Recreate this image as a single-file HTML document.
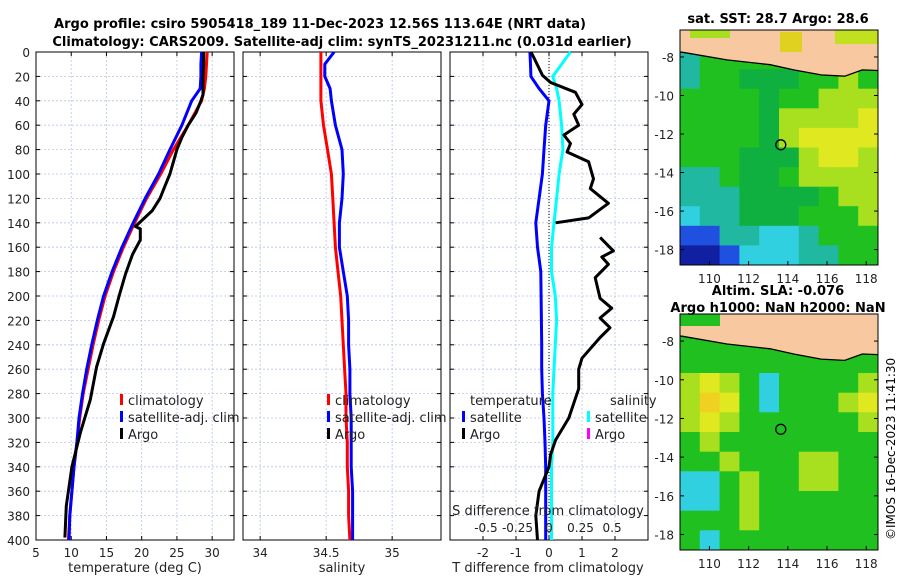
<!DOCTYPE html>
<html><head><meta charset="utf-8"><style>
body{margin:0;background:#fff}
svg{display:block;font-family:"DejaVu Sans","Liberation Sans",sans-serif}
</style></head><body>
<svg id="c" width="900" height="580" viewBox="0 0 900 580" xmlns="http://www.w3.org/2000/svg">
<text x="320" y="28" font-size="13" font-weight="bold" text-anchor="middle">Argo profile: csiro 5905418_189 11-Dec-2023 12.56S 113.64E (NRT data)</text>
<text x="342" y="46" font-size="13" font-weight="bold" text-anchor="middle">Climatology: CARS2009. Satellite-adj clim: synTS_20231211.nc (0.031d earlier)</text>
<g id="g"></g>
<text x="778" y="23" font-size="13" font-weight="bold" text-anchor="middle">sat. SST: 28.7 Argo: 28.6</text>
<text x="778" y="295" font-size="13" font-weight="bold" text-anchor="middle">Altim. SLA: -0.076</text>
<text x="778" y="312" font-size="13" font-weight="bold" text-anchor="middle">Argo h1000: NaN h2000: NaN</text>
<text transform="translate(895,540) rotate(-90)" font-size="12">©IMOS 16-Dec-2023 11:41:30</text>
</svg>
<script>
// ---- data ----
const depthTicks=[0,20,40,60,80,100,120,140,160,180,200,220,240,260,280,300,320,340,360,380,400];
const tempTicks=[5,10,15,20,25,30];
const salTicks=[34,34.5,35];
const salTickLabels=["34","34.5","35"];
const tdTicks=[-2,-1,0,1,2];
const sdTicks=[-0.5,-0.25,0,0.25,0.5];
const sdTickLabels=["-0.5","-0.25","0","0.25","0.5"];
const depths=[0,10,20,30,40,60,80,100,120,140,160,180,200,220,240,260,280,300,320,340,360,380,400];
const tempClim=[29.3,29.2,29.1,28.9,28.5,26.6,24.5,22.7,20.7,19.0,17.4,16.0,14.8,13.9,13.1,12.4,11.7,11.2,10.8,10.4,10.1,9.8,9.6];
const tempSat=[28.5,28.4,28.4,28.3,27.1,25.7,24.0,22.4,20.5,18.8,17.2,15.8,14.6,13.7,12.9,12.2,11.6,11.1,10.8,10.4,10.1,9.8,9.7];
const argoDepths=[0,10,20,30,35,40,50,60,70,80,90,100,110,120,130,143,145,154,166,182,200,217,239,258,285,312,340,372,398];
const tempArgo=[28.8,28.8,28.7,28.7,28.7,28.4,27.7,26.6,25.7,25.0,24.5,24.0,23.3,22.6,21.5,19.1,19.8,19.8,18.7,17.7,16.8,16.0,14.6,13.6,12.7,11.3,10.1,9.3,9.1];
const salClim=[34.46,34.46,34.46,34.46,34.46,34.48,34.51,34.54,34.55,34.56,34.57,34.59,34.61,34.62,34.63,34.64,34.65,34.65,34.66,34.66,34.67,34.67,34.68];
const salSat=[34.56,34.49,34.49,34.53,34.54,34.57,34.62,34.63,34.62,34.60,34.60,34.63,34.66,34.67,34.67,34.68,34.68,34.69,34.69,34.69,34.70,34.70,34.70];
const tDiffSat=[-0.58,-0.56,-0.55,-0.3,0,-0.1,-0.15,-0.2,-0.3,-0.4,-0.35,-0.25,-0.24,-0.23,-0.22,-0.22,-0.2,-0.15,-0.12,-0.1,-0.1,-0.1,-0.1];
const sDiffSat=[0.17,0.1,0.03,0.06,0.08,0.1,0.11,0.08,0.06,0.04,0.02,0.02,0.05,0.06,0.05,0.04,0.03,0.03,0.03,0.02,0.02,0.02,0.02];
const tdDepths1=[0,5,19,25,33,43,51,60,68,75,82,90,104,112,124,136,140];
const tdArgo1=[-0.55,-0.45,-0.2,0.05,0.8,1.0,0.75,0.9,0.45,0.65,0.55,1.2,1.35,1.25,1.8,1.2,0.2];
const tdDepths2=[152,163,168,174,185,202,210,218,226,234,251,260,276,300,318,330,340,360,380,400];
const tdArgo2=[1.55,1.95,1.6,1.8,1.4,1.55,1.9,1.55,1.85,1.55,1.0,0.9,0.9,0.6,0.2,0.05,0,-0.3,-0.4,-0.35];
const lonTicks=[110,112,114,116,118];
const latTicks=[-8,-10,-12,-14,-16,-18];
const coastLon=[108.5,108.6,110.9,113.1,114.3,115.7,116.9,117.8,118.6];
const coastLat=[-7.75,-7.75,-8.15,-8.4,-8.67,-8.93,-9.0,-8.67,-8.7];
const sstGrid=["TTGGGGGGGG","TGGGGGGGyG","TGGgggGGyG","GGGGgGGyyy","GGGGgyyyyY","GGGGgyYYYY","GGGgggyYYy","TTGggGyyyy","TTTggggGyy","CTTgggGGGy","BBTTCCTGGG","DDBCCCTTGG"];
const slaGrid=["GGGGGGGGGG","GGGGGGGGGG","GGGGGGGGGG","yYyGCGGGGy","yOYGCGGGyY","yYyGGGGGGy","GyGGGGGGGG","GGyGGGyyGG","CCGyGGyyGG","CCGyGGGGGG","GGGyGGGGGG","GCGGGGGGGG"];
// ---- drawing ----
const g=document.getElementById('g');const NS='http://www.w3.org/2000/svg';
function el(t,a,txt){const e=document.createElementNS(NS,t);for(const k in a)e.setAttribute(k,a[k]);if(txt!=null)e.textContent=txt;g.appendChild(e);return e;}
const Y0=52,Y1=540;const yD=d=>Y0+d/400*(Y1-Y0);
function lin(d0,d1,p0,p1){return v=>p0+(v-d0)/(d1-d0)*(p1-p0);}
const xT=lin(5,33.1,36,234),xS=lin(33.87,35.37,243,441),xTD=lin(-3,3,450,648),xSD=lin(-0.785,0.785,450,648);
function panel(x0,x1,name,xt,xs,xl){
  for(const d of depthTicks){const l=el('line',{x1:x0,x2:x1,y1:yD(d),y2:yD(d),stroke:'#b8c4e8','stroke-width':0.8,'stroke-dasharray':'2,2'});}
  xt.forEach((v,i)=>{const x=xs(v);const l=el('line',{x1:x,x2:x,y1:Y0,y2:Y1,stroke:'#b8c4e8','stroke-width':0.8,'stroke-dasharray':'2,2'});
    const t=el('text',{x:x,y:Y1+17,'font-size':12,'text-anchor':'middle',fill:'#222'},xl?xl[i]:String(v));
    el('line',{x1:x,x2:x,y1:Y1,y2:Y1-4,stroke:'#000'});el('line',{x1:x,x2:x,y1:Y0,y2:Y0+4,stroke:'#000'});});
  for(const d of depthTicks){el('line',{x1:x0,x2:x0+4,y1:yD(d),y2:yD(d),stroke:'#000'});el('line',{x1:x1,x2:x1-4,y1:yD(d),y2:yD(d),stroke:'#000'});}
  const r=el('rect',{x:x0,y:Y0,width:x1-x0,height:Y1-Y0,fill:'none',stroke:'#000','stroke-width':1});
}
function line(xs,xv,ds,col,name,w){const p=xv.map((v,i)=>xs(v).toFixed(1)+','+yD(ds[i]).toFixed(1)).join(' ');const l=el('polyline',{points:p,fill:'none',stroke:col,'stroke-width':w||3,'stroke-linejoin':'round'});}
panel(36,234,'temp-panel',tempTicks,xT);
panel(243,441,'sal-panel',salTicks,xS,salTickLabels);
panel(450,648,'diff-panel',tdTicks,xTD);
for(const d of depthTicks){const t=el('text',{x:30,y:yD(d)+5,'font-size':12,'text-anchor':'end',fill:'#222'},String(d));}
line(xT,tempClim,depths,'#f00','temp-climatology-line');
line(xT,tempSat,depths,'#00f','temp-satellite-line');
line(xT,tempArgo,argoDepths,'#000','temp-argo-line');
line(xS,salClim,depths,'#f00','sal-climatology-line');
line(xS,salSat,depths,'#00f','sal-satellite-line');
const zl=el('line',{x1:xTD(0),x2:xTD(0),y1:Y0,y2:Y1,stroke:'#000','stroke-width':1,'stroke-dasharray':'1,2'});
line(xSD,sDiffSat,depths,'#0ff','sal-diff-satellite-line');
line(xTD,tDiffSat,depths,'#00f','temp-diff-satellite-line');
line(xTD,tdArgo1,tdDepths1,'#000','temp-diff-argo-line-upper');
line(xTD,tdArgo2,tdDepths2,'#000','temp-diff-argo-line-lower');
sdTicks.forEach((v,i)=>{const t=el('text',{x:xSD(v),y:532,'font-size':12,'text-anchor':'middle',fill:'#222'},sdTickLabels[i]);});
function txt(x,y,s,name,anchor,size){const t=el('text',{x:x,y:y,'font-size':size||13,'text-anchor':anchor||'start',fill:'#222'},s);return t;}
txt(548,515,'S difference from climatology','s-diff-axis-title','middle');
txt(135,572,'temperature (deg C)','temp-x-axis-title','middle');
txt(342,572,'salinity','sal-x-axis-title','middle');
txt(548,572,'T difference from climatology','t-diff-x-axis-title','middle');
function leg(x,y,col,s,name){const m=el('rect',{x:x,y:y-11,width:3,height:11,fill:col});txt(x+8,y,s,name);}
leg(120,405,'#f00','climatology','legend-climatology');leg(120,422,'#00f','satellite-adj. clim','legend-satellite');leg(120,439,'#000','Argo','legend-argo');
leg(327,405,'#f00','climatology','legend-sal-climatology');leg(327,422,'#00f','satellite-adj. clim','legend-sal-satellite');leg(327,439,'#000','Argo','legend-sal-argo');
txt(470,405,'temperature','legend-temp-header');txt(610,405,'salinity','legend-sal-header');
leg(462,422,'#00f','satellite','legend-temp-satellite');leg(462,439,'#000','Argo','legend-temp-argo');
leg(587,422,'#0ff','satellite','legend-sal-satellite-diff');leg(587,439,'#f0f','Argo','legend-sal-argo-diff');
// maps
const pal={Y:'#e0e820',y:'#a8e020',O:'#f0d020',G:'#20c020',g:'#10b040',T:'#20b8a0',C:'#30d0e0',B:'#2050e0',D:'#1020a0'};
const xL=lin(108.5,118.6,680,878);
function map(y0,y1,grid,name,sst){
  const yL=lin(-6.6,-18.8,y0,y1);
  const rows=grid.length,cols=grid[0].length,dLat=12.2/rows,dLon=10.1/cols;
  grid.forEach((row,r)=>{[...row].forEach((c,k)=>{const la=-6.6-r*dLat,lo=108.5+k*dLon;const x=xL(lo),y=yL(la);
    const e=el('rect',{x:x.toFixed(1),y:y.toFixed(1),width:(xL(lo+dLon)-x+0.5).toFixed(1),height:(yL(la-dLat)-y+0.5).toFixed(1),fill:pal[c]});});});
  const pts=coastLon.map((lo,i)=>xL(lo).toFixed(1)+','+yL(coastLat[i]).toFixed(1));
  const land=el('polygon',{points:'680,'+y0+' '+pts.join(' ')+' 878,'+y0,fill:'#f8c8a0'});
  if(sst){el('rect',{x:690,y:y0,width:40,height:8,fill:'#a8e020'});el('rect',{x:780,y:y0+2,width:22,height:20,fill:'#e0d020'});el('rect',{x:835,y:y0,width:43,height:14,fill:'#c0e020'});}
  else{el('rect',{x:680,y:y0,width:40,height:12,fill:'#20c020'});}
  const cst=el('polyline',{points:pts.join(' '),fill:'none',stroke:'#000','stroke-width':1.3});
  const ci=el('circle',{cx:xL(113.64),cy:yL(-12.56),r:5,fill:'none',stroke:'#000','stroke-width':1.3});
  const f=el('rect',{x:680,y:y0,width:198,height:y1-y0,fill:'none',stroke:'#000'});
  lonTicks.forEach(v=>{txt(xL(v),y1+18,String(v),name+'-lon-tick','middle',12);el('line',{x1:xL(v),x2:xL(v),y1:y1,y2:y1-4,stroke:'#000'});});
  latTicks.forEach(v=>{txt(674,yL(v)+5,String(v),name+'-lat-tick','end',12);el('line',{x1:878,x2:874,y1:yL(v),y2:yL(v),stroke:'#000'});el('line',{x1:680,x2:684,y1:yL(v),y2:yL(v),stroke:'#000'});});
}
map(30,265,sstGrid,'sst-map',true);
map(314,550,slaGrid,'sla-map',false);
</script>
</body></html>
